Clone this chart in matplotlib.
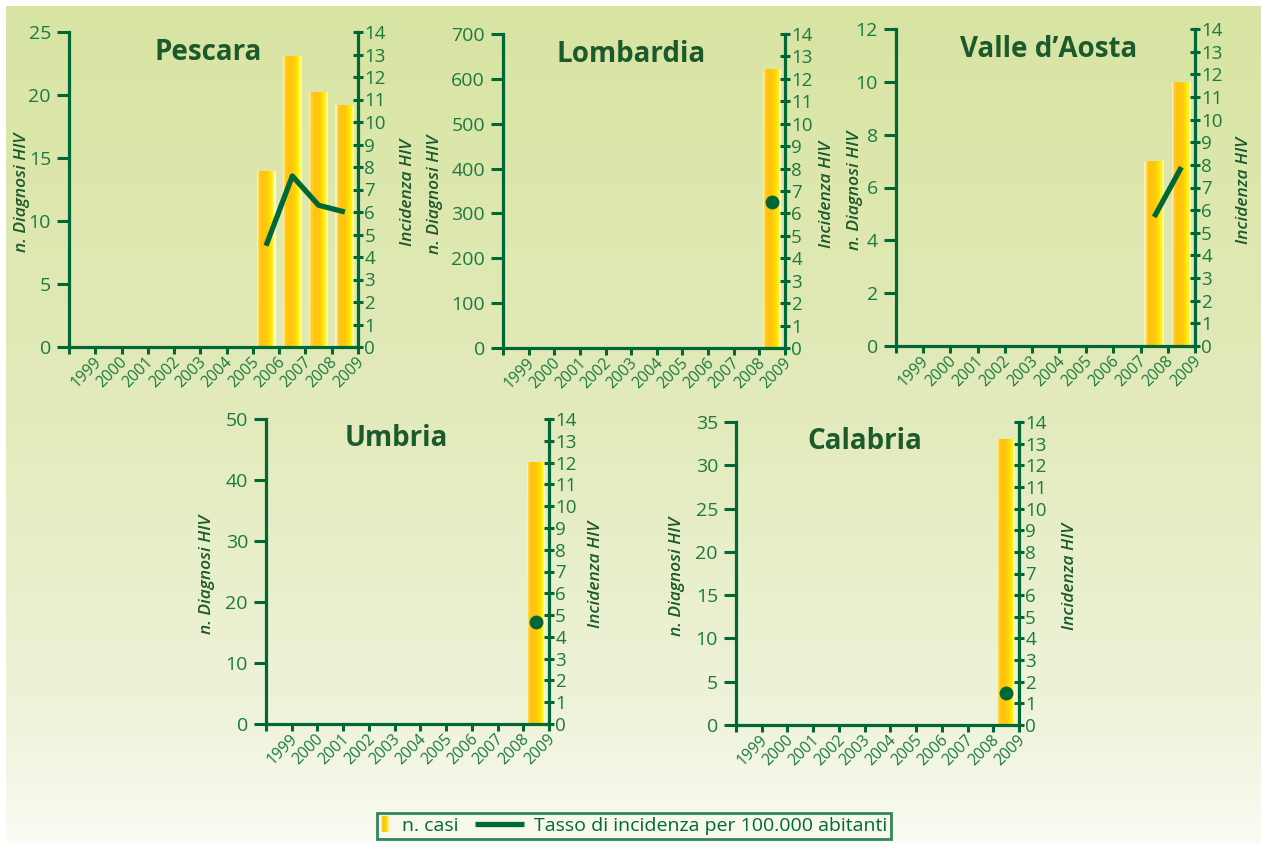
import numpy as np
import matplotlib
matplotlib.use("Agg")
import matplotlib.pyplot as plt
from matplotlib.patches import Rectangle
from matplotlib.lines import Line2D
from matplotlib.legend_handler import HandlerBase
from matplotlib.colors import LinearSegmentedColormap

plt.rcParams['font.family'] = ['Open Sans', 'DejaVu Sans']

# dati
years = [str(y) for y in range(1999, 2010)]
nan = np.nan

pescara_casi = [nan] * 7 + [14, 23.1, 20.2, 19.2]
pescara_tasso = [nan] * 7 + [4.5, 7.6, 6.3, 6.0]

lombardia_casi = [nan] * 10 + [622]
lombardia_tasso = [nan] * 10 + [6.5]

valle_casi = [nan] * 9 + [7, 10]
valle_tasso = [nan] * 9 + [5.7, 7.9]

umbria_casi = [nan] * 10 + [43]
umbria_tasso = [nan] * 10 + [4.7]

calabria_casi = [nan] * 10 + [33]
calabria_tasso = [nan] * 10 + [1.5]

GREEN = '#006837'
TICK = '#1b7a40'
DARK = '#1a5a2c'

W, H = 1261, 843
fig = plt.figure(figsize=(W / 100, H / 100), dpi=100)
fig.patch.set_facecolor('white')

# sfondo sfumato
bg = fig.add_axes([6 / W, 0, 1 - 6 / W, 1 - 6 / H], zorder=-10)
bg_cmap = LinearSegmentedColormap.from_list(
    'bg', [(0, '#d8e4a2'), (0.5, '#e3ebbc'), (0.85, '#eff3da'), (1, '#fafbf3')])
bg.imshow(np.linspace(0, 1, 256).reshape(-1, 1), cmap=bg_cmap, aspect='auto',
          extent=[0, 1, 0, 1])
bg.axis('off')

bar_cmap = LinearSegmentedColormap.from_list(
    'bar', [(0, '#fffbe8'), (0.1, '#ffd54a'), (0.25, '#ffc20e'), (0.55, '#ffc80f'),
            (0.82, '#fff000'), (0.93, '#fff680'), (1, '#fffdf0')])
NSTRIP = 16


def grad_bars(ax, x, h, width):
    sw = width / NSTRIP
    for k in range(NSTRIP):
        ax.bar(x - width / 2 + (k + 0.5) * sw, h, width=sw * 1.08,
               color=bar_cmap((k + 0.5) / NSTRIP), linewidth=0, zorder=2)


def panel(px, title, casi, tasso, ymax, ystep, tx, loff, roff):
    left, top, right, bottom = px
    wpx = right - left
    ax = fig.add_axes([left / W, (H - bottom) / H, wpx / W, (bottom - top) / H])
    ax.patch.set_alpha(0)
    x = np.arange(len(years)) + 0.5
    grad_bars(ax, x, np.array(casi, dtype=float), 0.72)
    ax.set_xlim(0, len(years))
    ax.set_ylim(0, ymax)
    ax.set_yticks(np.arange(0, ymax + ystep / 2, ystep))
    ax.set_xticks(np.arange(len(years) + 1))
    ax.set_xticklabels([])
    ax.set_xticks(np.arange(len(years)) + 0.92, minor=True)
    ax.set_xticklabels(years, minor=True)
    plt.setp(ax.get_xticklabels(minor=True), rotation=45, ha='right',
             rotation_mode='anchor', color=TICK, fontsize=11.3)
    ax.tick_params(axis='x', which='major', direction='out', length=5, width=2.2,
                   color=GREEN)
    ax.tick_params(axis='x', which='minor', length=0, pad=5)
    ax.tick_params(axis='y', direction='out', length=9, width=2.2, color=GREEN,
                   labelcolor=TICK, labelsize=14, pad=4)
    for s in ['top', 'right']:
        ax.spines[s].set_visible(False)
    for s in ['left', 'bottom']:
        ax.spines[s].set_color(GREEN)
        ax.spines[s].set_linewidth(2.3)
    ax.set_ylabel('n. Diagnosi HIV', fontsize=12.5, fontstyle='italic',
                  fontweight='semibold', color=DARK, va='center')
    ax.yaxis.set_label_coords(-loff / wpx, 0.49)

    ax2 = ax.twinx()
    t = np.array(tasso, dtype=float)
    single = np.count_nonzero(~np.isnan(t)) == 1
    ax2.plot(x, t, color=GREEN, lw=3.8, marker='o' if single else None,
             markersize=9, solid_capstyle='butt', zorder=5)
    ax2.set_ylim(0, 14)
    ax2.set_yticks(range(15))
    ax2.tick_params(axis='y', direction='inout', length=7, width=2.2, color=GREEN,
                    labelcolor=TICK, labelsize=13.5, pad=1)
    for s in ['top', 'left', 'bottom']:
        ax2.spines[s].set_visible(False)
    ax2.spines['right'].set_color(GREEN)
    ax2.spines['right'].set_linewidth(2.3)
    ax2.set_ylabel('Incidenza HIV', fontsize=12.5, fontstyle='italic',
                   fontweight='semibold', color=DARK, va='center')
    ax2.yaxis.set_label_coords(1 + roff / wpx, 0.49)

    ax.text(tx, 1 - 0.088, title, transform=ax.transAxes, ha='center',
            va='baseline', fontsize=20, fontweight='bold', color=DARK)
    return ax


panel((69, 32, 358, 347), 'Pescara', pescara_casi, pescara_tasso, 25, 5, 0.48, 47, 50)
panel((503, 34, 785, 348), 'Lombardia', lombardia_casi, lombardia_tasso, 700, 100,
      0.455, 68, 42)
panel((896, 29, 1195, 346), 'Valle d\u2019Aosta', valle_casi, valle_tasso, 12, 2,
      0.51, 41, 49)
panel((266, 419, 549, 724), 'Umbria', umbria_casi, umbria_tasso, 50, 10, 0.46, 59, 47)
panel((736, 422, 1019, 725), 'Calabria', calabria_casi, calabria_tasso, 35, 5,
      0.456, 59, 51)


# legenda
class BarHandler(HandlerBase):
    def create_artists(self, legend, orig_handle, xdescent, ydescent, width,
                       height, fontsize, trans):
        n = 8
        bw = 6.5
        arts = []
        for k in range(n):
            arts.append(Rectangle((-xdescent + k * bw / n, -ydescent - 1),
                                  bw / n * 1.1, height + 2,
                                  facecolor=bar_cmap((k + 0.5) / n),
                                  edgecolor='none', transform=trans))
        return arts


class LongLineHandler(HandlerBase):
    def create_artists(self, legend, orig_handle, xdescent, ydescent, width,
                       height, fontsize, trans):
        y = -ydescent + height / 2
        ln = Line2D([-xdescent + width - 35, -xdescent + width], [y, y],
                    color=GREEN, lw=3.8, solid_capstyle='butt', transform=trans)
        return [ln]


h_bar = Rectangle((0, 0), 1, 1)
h_line = Line2D([], [])
leg = fig.legend([h_bar, h_line], ['n. casi', 'Tasso di incidenza per 100.000 abitanti'],
                 handler_map={Rectangle: BarHandler(), Line2D: LongLineHandler()},
                 loc='center', bbox_to_anchor=(634 / W, 1 - 826 / H), ncol=2,
                 fontsize=14, frameon=True, fancybox=False, handlelength=0.55,
                 handletextpad=0.55, columnspacing=2.8, borderpad=0.2,
                 borderaxespad=0, labelcolor=GREEN)
leg.get_frame().set_edgecolor(GREEN)
leg.get_frame().set_linewidth(2)
leg.get_frame().set_facecolor('#f6f8ea')

fig.savefig('out.png', dpi=100, facecolor=fig.get_facecolor())
